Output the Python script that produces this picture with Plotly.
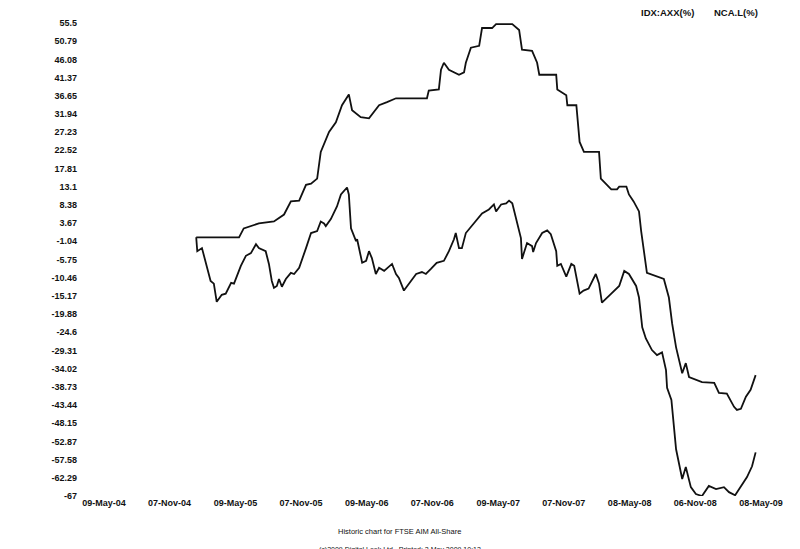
import plotly.graph_objects as go

# ---------------- data ----------------
y_tick_vals = [55.5, 50.79, 46.08, 41.37, 36.65, 31.94, 27.23, 22.52, 17.81, 13.1,
               8.38, 3.67, -1.04, -5.75, -10.46, -15.17, -19.88, -24.6, -29.31,
               -34.02, -38.73, -43.44, -48.15, -52.87, -57.58, -62.29, -67]
y_tick_text = ["55.5", "50.79", "46.08", "41.37", "36.65", "31.94", "27.23", "22.52",
               "17.81", "13.1", "8.38", "3.67", "-1.04", "-5.75", "-10.46", "-15.17",
               "-19.88", "-24.6", "-29.31", "-34.02", "-38.73", "-43.44", "-48.15",
               "-52.87", "-57.58", "-62.29", "-67"]

x_tick_vals = ["2004-05-09", "2004-11-07", "2005-05-09", "2005-11-07", "2006-05-09",
               "2006-11-07", "2007-05-09", "2007-11-07", "2008-05-08", "2008-11-06",
               "2009-05-08"]
x_tick_text = ["09-May-04", "07-Nov-04", "09-May-05", "07-Nov-05", "09-May-06",
               "07-Nov-06", "09-May-07", "07-Nov-07", "08-May-08", "06-Nov-08",
               "08-May-09"]

# NCA.L (%) - upper, step-like series
nca_dates = ["2005-01-20", "2005-05-19", "2005-06-01", "2005-07-13", "2005-08-24",
             "2005-09-21", "2005-10-10", "2005-11-02", "2005-11-21", "2005-12-05",
             "2005-12-22", "2005-12-28", "2006-01-01", "2006-01-24", "2006-02-12",
             "2006-03-01", "2006-03-20", "2006-03-29", "2006-04-22", "2006-05-15",
             "2006-06-12", "2006-07-04", "2006-07-29", "2006-10-23", "2006-10-28",
             "2006-11-25", "2006-12-01", "2006-12-09", "2006-12-23", "2007-01-20",
             "2007-02-03", "2007-02-08", "2007-02-22", "2007-03-17", "2007-03-25",
             "2007-04-22", "2007-05-03", "2007-06-17", "2007-07-06", "2007-07-14",
             "2007-08-11", "2007-08-25", "2007-08-31", "2007-10-17", "2007-10-20",
             "2007-11-14", "2007-11-17", "2007-12-12", "2007-12-21", "2008-01-02",
             "2008-02-13", "2008-02-18", "2008-03-18", "2008-04-03", "2008-04-09",
             "2008-04-29", "2008-05-06", "2008-05-19", "2008-06-03", "2008-06-09",
             "2008-06-17", "2008-06-25", "2008-08-11", "2008-08-25", "2008-09-03",
             "2008-09-14", "2008-10-01", "2008-10-11", "2008-10-20", "2008-11-25",
             "2008-12-29", "2009-01-11", "2009-02-02", "2009-02-22", "2009-03-02",
             "2009-03-13", "2009-03-27", "2009-04-09", "2009-04-23"]
nca_vals = [0.0, 0.0, 2.3, 3.6, 4.1,
            5.9, 9.3, 9.5, 13.6, 13.9,
            15.2, 18.8, 22.1, 27.3, 29.8,
            34.2, 37.0, 32.9, 31.1, 30.8,
            34.2, 35.0, 36.0, 36.0, 38.0,
            38.3, 43.4, 45.2, 43.4, 42.1,
            42.7, 45.2, 49.1, 49.6, 54.2,
            54.2, 55.2, 55.2, 53.7, 48.6,
            48.3, 45.2, 42.1, 42.1, 38.3,
            36.8, 34.2, 34.2, 24.7, 22.1,
            22.1, 15.2, 12.4, 12.4, 13.1,
            13.1, 11.1, 9.3, 6.7, 1.6,
            -4.3, -9.2, -10.8, -15.6, -22.3,
            -28.5, -35.2, -32.6, -36.2, -37.5,
            -37.7, -40.3, -40.5, -43.9, -44.7,
            -44.4, -41.3, -39.5, -35.7]

# IDX:AXX (%) - lower, noisy index series
idx_dates = ["2005-01-20", "2005-01-23", "2005-02-05", "2005-02-16", "2005-03-01",
             "2005-03-10", "2005-03-18", "2005-04-01", "2005-04-12", "2005-04-27",
             "2005-05-05", "2005-05-24", "2005-06-07", "2005-06-21", "2005-07-05",
             "2005-07-13", "2005-08-01", "2005-08-10", "2005-08-18", "2005-08-24",
             "2005-09-01", "2005-09-07", "2005-09-15", "2005-09-26", "2005-10-10",
             "2005-10-19", "2005-11-02", "2005-11-21", "2005-12-05", "2005-12-22",
             "2006-01-01", "2006-01-10", "2006-01-15", "2006-01-29", "2006-02-15",
             "2006-02-26", "2006-03-15", "2006-03-20", "2006-03-26", "2006-04-09",
             "2006-04-12", "2006-04-26", "2006-05-07", "2006-05-15", "2006-05-23",
             "2006-06-03", "2006-06-12", "2006-06-26", "2006-07-18", "2006-07-29",
             "2006-08-06", "2006-08-20", "2006-08-29", "2006-09-23", "2006-10-09",
             "2006-10-20", "2006-11-03", "2006-11-19", "2006-12-09", "2006-12-23",
             "2007-01-06", "2007-01-11", "2007-01-20", "2007-01-28", "2007-02-08",
             "2007-03-03", "2007-03-25", "2007-04-13", "2007-04-27", "2007-05-03",
             "2007-05-17", "2007-05-31", "2007-06-08", "2007-06-17", "2007-06-28",
             "2007-07-11", "2007-07-14", "2007-07-20", "2007-07-28", "2007-08-11",
             "2007-08-14", "2007-08-22", "2007-09-08", "2007-09-22", "2007-10-02",
             "2007-10-17", "2007-10-20", "2007-10-30", "2007-11-14", "2007-11-28",
             "2007-12-06", "2007-12-21", "2008-01-01", "2008-01-15", "2008-02-04",
             "2008-02-13", "2008-02-21", "2008-03-18", "2008-04-01", "2008-04-09",
             "2008-04-23", "2008-05-06", "2008-05-26", "2008-06-03", "2008-06-12",
             "2008-06-22", "2008-07-09", "2008-07-23", "2008-08-06", "2008-08-17",
             "2008-08-20", "2008-09-01", "2008-09-14", "2008-10-01", "2008-10-11",
             "2008-10-25", "2008-11-08", "2008-11-25", "2008-12-14", "2009-01-03",
             "2009-01-25", "2009-02-08", "2009-02-25", "2009-03-13", "2009-03-30",
             "2009-04-13", "2009-04-23"]
idx_vals = [0.0, -3.6, -2.8, -6.9, -11.3,
            -12.0, -16.7, -14.9, -14.6, -11.8,
            -12.0, -7.4, -4.8, -4.1, -1.8,
            -2.8, -3.6, -6.9, -11.3, -13.1,
            -12.6, -10.8, -12.8, -10.8, -9.2,
            -9.5, -7.9, -2.8, 1.1, 1.6,
            4.1, 3.6, 2.9, 4.7, 8.0,
            11.1, 12.9, 11.1, 2.3, -1.0,
            -0.5, -6.6, -6.1, -3.6, -5.4,
            -9.5, -7.9, -8.7, -6.9, -9.5,
            -10.5, -13.8, -12.6, -9.5, -9.0,
            -9.5, -8.2, -6.6, -6.1, -3.6,
            -0.5, 1.1, -2.8, -2.8, 1.1,
            3.6, 6.2, 7.2, 8.5, 6.7,
            8.5, 8.8, 9.5, 8.8, 4.9,
            -0.2, -5.6, -3.6, -1.5, -2.3,
            -3.8, -1.5, 1.1, 1.8, 0.8,
            -3.6, -7.4, -6.9, -10.2, -6.9,
            -7.4, -14.6, -13.8, -13.3, -9.5,
            -12.0, -16.9, -14.6, -13.3, -12.6,
            -8.7, -9.5, -12.6, -15.6, -23.3,
            -26.2, -29.2, -30.5, -29.8, -34.4,
            -39.0, -42.1, -54.9, -62.6, -59.5,
            -64.7, -66.5, -67.0, -64.4, -65.2,
            -64.7, -66.0, -66.8, -64.4, -62.1,
            -59.3, -55.7]

legend_labels = ["IDX:AXX(%)", "NCA.L(%)"]
chart_title = "Historic chart for FTSE AIM All-Share"
footer_text = "(c)2009 Digital Look Ltd.  Printed: 2 May 2009 10:13"

# ---------------- figure ----------------
FONT = "Liberation Sans, Arial, sans-serif"
INK = "#111111"

fig = go.Figure()
fig.add_trace(go.Scatter(x=idx_dates, y=idx_vals, mode="lines", name=legend_labels[0],
                         line=dict(color=INK, width=1.8)))
fig.add_trace(go.Scatter(x=nca_dates, y=nca_vals, mode="lines", name=legend_labels[1],
                         line=dict(color=INK, width=1.8)))

fig.update_layout(
    width=800, height=549,
    margin=dict(l=73, r=34, t=10, b=61),
    paper_bgcolor="white", plot_bgcolor="white",
    showlegend=False,
    font=dict(family=FONT, size=9, color=INK),
)
fig.update_xaxes(
    type="date", range=["2004-03-06", "2009-06-13"],
    tickvals=x_tick_vals, ticktext=x_tick_text,
    showgrid=False, zeroline=False, showline=False, ticks="",
    tickfont=dict(family=FONT, size=9, color=INK, weight="bold"),
    ticklabelstandoff=0,
)
fig.update_yaxes(
    range=[-67, 55.5],
    tickvals=y_tick_vals, ticktext=y_tick_text,
    showgrid=False, zeroline=False, showline=False, ticks="",
    tickfont=dict(family=FONT, size=9, color=INK, weight="bold"),
    ticklabelstandoff=3,
)

fig.add_annotation(text=legend_labels[0], xref="paper", yref="paper", x=0.847, y=1.022,
                   xanchor="center", yanchor="middle", showarrow=False,
                   font=dict(family=FONT, size=9.5, color=INK, weight="bold"))
fig.add_annotation(text=legend_labels[1], xref="paper", yref="paper", x=0.945, y=1.022,
                   xanchor="center", yanchor="middle", showarrow=False,
                   font=dict(family=FONT, size=9.5, color=INK, weight="bold"))
fig.add_annotation(text=chart_title, xref="paper", yref="paper", x=0.46, y=-0.075,
                   xanchor="center", yanchor="middle", showarrow=False,
                   font=dict(family=FONT, size=7.5, color=INK))
fig.add_annotation(text=footer_text, xref="paper", yref="paper", x=0.46, y=-0.114,
                   xanchor="center", yanchor="middle", showarrow=False,
                   font=dict(family=FONT, size=7, color=INK))

fig.write_html("out.html")
